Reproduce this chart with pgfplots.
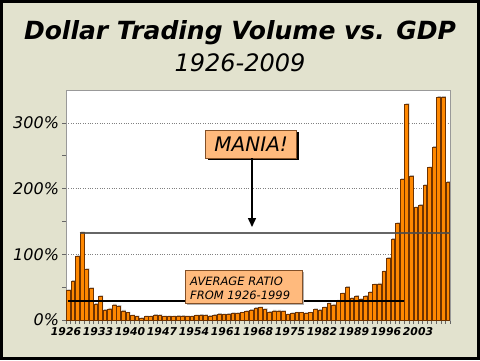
\documentclass[border=0pt]{standalone}
\usepackage{fontspec}
\setmainfont{DejaVu Sans}
\usepackage{pgfplots}
\pgfplotsset{compat=1.18}
\usepackage{pgfplotstable}
\usetikzlibrary{arrows.meta}

\definecolor{bg}{RGB}{226,226,206}
\definecolor{barorange}{RGB}{255,136,0}
\definecolor{baredge}{RGB}{110,50,0}
\definecolor{peach}{RGB}{255,186,125}
\definecolor{boxedge}{RGB}{130,80,40}

\pgfplotstableread{
year val
1926 45
1927 59
1928 97
1929 133
1930 77
1931 48
1932 24
1933 36
1934 15
1935 17
1936 23
1937 21
1938 14
1939 11
1940 6.5
1941 5
1942 2.5
1943 5
1944 5
1945 7.5
1946 7
1947 5
1948 5
1949 5
1950 6
1951 6
1952 5
1953 5
1954 6.5
1955 7.5
1956 7
1957 6
1958 7.5
1959 9
1960 8
1961 9
1962 10
1963 10
1964 11
1965 13
1966 15
1967 18
1968 19
1969 16
1970 12
1971 14
1972 14
1973 13
1974 8
1975 10
1976 11
1977 11
1978 10
1979 11
1980 16
1981 15
1982 19
1983 25
1984 23
1985 29
1986 40
1987 50
1988 33
1989 36.5
1990 31.5
1991 36.5
1992 42
1993 54
1994 55
1995 73.5
1996 94
1997 123
1998 147
1999 214
2000 328
2001 219
2002 171
2003 175
2004 205
2005 232
2006 263
2007 339
2008 339
2009 210
}\datatable

\begin{document}
\begin{tikzpicture}[x=1pt,y=1pt]
\path[use as bounding box] (0,0) rectangle (480,360);
\fill[bg] (0,0) rectangle (480,360);
\draw[black, line width=3pt] (1.5,1.5) rectangle (478.5,358.5);
\node[font=\fontsize{25}{30}\selectfont\bfseries\itshape, anchor=base, inner sep=0] at (240,320.5) {Dollar Trading Volume vs. GDP};
\node[font=\fontsize{24}{28}\selectfont\itshape, anchor=base, inner sep=0] at (240,289) {1926-2009};
\begin{axis}[
  at={(66pt,40pt)}, anchor=south west,
  scale only axis, width=384pt, height=230pt,
  xmin=1926, xmax=2010, ymin=0, ymax=350,
  axis background/.style={fill=white},
  axis line style={gray!80, line width=0.8pt},
  ytick={0,100,200,300}, yticklabels={0\%,100\%,200\%,300\%},
  minor ytick={50,150,250},
  xtick={1926,1933,...,2003},
  xticklabels={1926,1933,1940,1947,1954,1961,1968,1975,1982,1989,1996,2003},
  minor xtick={1926,1927,...,2010},
  tick align=outside,
  major tick length=3.5pt, minor tick length=3.5pt,
  tick style={gray!80!black, line width=0.6pt},
  xtick pos=bottom, ytick pos=left,
  ymajorgrids, major grid style={gray, dotted, line width=0.6pt},
  yticklabel style={font=\fontsize{16}{18}\selectfont\itshape},
  xticklabel style={font=\fontsize{10.8}{12}\selectfont\bfseries\itshape},
]
\addplot[ybar, bar width=0.8, bar shift=0pt, fill=gray!55, draw=none, yshift=1pt] table[x expr=\thisrow{year}+0.7, y=val] {\datatable};
\addplot[ybar, bar width=0.8, bar shift=0pt, fill=barorange, draw=baredge, line width=0.6pt] table[x expr=\thisrow{year}+0.5, y=val] {\datatable};
\addplot[gray!60!black, line width=1.8pt, opacity=0.85] coordinates {(1929,133) (2010,133)};
\addplot[black, line width=1.2pt] coordinates {(1926.4,29) (2000,29)};
\end{axis}
% MANIA box and arrow
\fill[black] (208,200) rectangle (299,228);
\draw[boxedge, fill=peach, line width=0.6pt] (205.7,202) rectangle (296.7,230);
\node[font=\fontsize{20}{22}\selectfont\itshape, inner sep=0] at (251.2,216) {MANIA!};
\draw[black, line width=1.5pt, -{Triangle[width=8pt,length=9pt]}] (252,202) -- (252,133);
% Average box
\fill[gray!60] (186.5,55.5) rectangle (303.5,88.5);
\draw[boxedge, fill=peach, line width=0.6pt] (185,57) rectangle (302,90);
\node[font=\fontsize{11.5}{13}\selectfont\itshape, anchor=base west, inner sep=0] at (190,75) {AVERAGE RATIO};
\node[font=\fontsize{11.5}{13}\selectfont\itshape, anchor=base west, inner sep=0] at (190,61) {FROM 1926-1999};
\end{tikzpicture}
\end{document}
